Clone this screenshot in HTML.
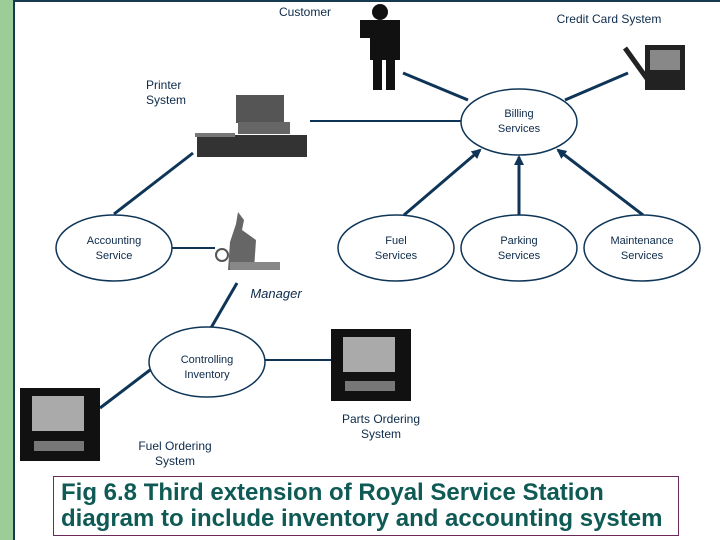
<!DOCTYPE html>
<html><head><meta charset="utf-8"><style>
html,body{margin:0;padding:0;background:#fff;}
body{width:720px;height:540px;overflow:hidden;position:relative;font-family:"Liberation Sans",sans-serif;}
.t{position:absolute;font-size:12px;color:#0d2a4a;text-align:center;line-height:15px;white-space:nowrap;}
.cap{position:absolute;left:53px;top:476px;width:626px;height:60px;border:1px solid #6a2a5a;color:#0f5a55;font-weight:bold;font-size:24px;line-height:26px;padding-left:7px;box-sizing:border-box;padding-top:3px;white-space:nowrap;}
</style></head><body>
<svg width="720" height="540" style="position:absolute;left:0;top:0">
<defs><marker id="a" markerWidth="10" markerHeight="10" refX="8" refY="5" orient="auto" markerUnits="userSpaceOnUse"><path d="M0,0 L10,5 L0,10 z" fill="#0e3557"/></marker></defs>
<rect x="0" y="0" width="13" height="540" fill="#9ccc98"/>
<rect x="13" y="0" width="2" height="540" fill="#183a50"/>
<rect x="13" y="0" width="707" height="2" fill="#183a50"/>
<g stroke="#0e3557" stroke-width="3" fill="none">
<line x1="403" y1="73" x2="468" y2="100"/>
<line x1="628" y1="73" x2="565" y2="100"/>
<line x1="310" y1="121" x2="461" y2="121" stroke-width="2"/>
<line x1="193" y1="153" x2="114" y2="214"/>
<line x1="172" y1="248" x2="215" y2="248" stroke-width="2"/>
<line x1="404" y1="215" x2="480" y2="150" marker-end="url(#a)"/>
<line x1="519" y1="215" x2="519" y2="157" marker-end="url(#a)"/>
<line x1="643" y1="215" x2="558" y2="150" marker-end="url(#a)"/>
<line x1="237" y1="283" x2="208" y2="333"/>
<line x1="265" y1="360" x2="332" y2="360" stroke-width="2"/>
<line x1="150" y1="370" x2="100" y2="408"/>
</g>
<g stroke="#0e3557" stroke-width="1.5" fill="#fff">
<ellipse cx="519" cy="122" rx="58" ry="33"/>
<ellipse cx="114" cy="248" rx="58" ry="33"/>
<ellipse cx="396" cy="248" rx="58" ry="33"/>
<ellipse cx="519" cy="248" rx="58" ry="33"/>
<ellipse cx="642" cy="248" rx="58" ry="33"/>
<ellipse cx="207" cy="362" rx="58" ry="35"/>
</g>
<g fill="#111"><circle cx="380" cy="12" r="8"/><rect x="370" y="20" width="30" height="40"/><rect x="373" y="58" width="9" height="32"/><rect x="386" y="58" width="9" height="32"/><rect x="360" y="20" width="10" height="18"/></g>
<g fill="#222"><rect x="645" y="45" width="40" height="45"/><rect x="650" y="50" width="30" height="20" fill="#888"/><line x1="625" y1="48" x2="648" y2="80" stroke="#222" stroke-width="5"/></g>
<g><rect x="236" y="95" width="48" height="28" fill="#555"/><rect x="238" y="122" width="52" height="12" fill="#666"/><rect x="197" y="135" width="110" height="22" fill="#333"/><rect x="195" y="133" width="40" height="4" fill="#777"/></g>
<g><path d="M238 212 l6 8 l-2 10 l14 10 l-2 30 h-26 l2-28 l6-18z" fill="#666"/><circle cx="222" cy="255" r="6" fill="none" stroke="#555" stroke-width="2"/><rect x="230" y="262" width="50" height="8" fill="#888"/></g>
<g><rect x="331" y="329" width="80" height="72" fill="#111"/><rect x="343" y="337" width="52" height="35" fill="#aaa"/><rect x="345" y="381" width="50" height="10" fill="#777"/>
<rect x="20" y="388" width="80" height="73" fill="#111"/><rect x="32" y="396" width="52" height="35" fill="#aaa"/><rect x="34" y="441" width="50" height="10" fill="#777"/></g>
</svg>
<div class="t" style="left:270px;top:5px;width:70px">Customer</div>
<div class="t" style="left:538px;top:12px;width:142px">Credit Card System</div>
<div class="t" style="left:146px;top:78px;text-align:left">Printer<br>System</div>
<div class="t" style="left:479px;top:107px;width:80px;font-size:11px">Billing<br>Services</div>
<div class="t" style="left:70px;top:234px;width:88px;font-size:11px">Accounting<br>Service</div>
<div class="t" style="left:356px;top:234px;width:80px;font-size:11px">Fuel<br>Services</div>
<div class="t" style="left:479px;top:234px;width:80px;font-size:11px">Parking<br>Services</div>
<div class="t" style="left:597px;top:234px;width:90px;font-size:11px">Maintenance<br>Services</div>
<div class="t" style="left:243px;top:286px;width:66px;font-style:italic;font-size:13px">Manager</div>
<div class="t" style="left:162px;top:353px;width:90px;font-size:11px">Controlling<br>Inventory</div>
<div class="t" style="left:325px;top:412px;width:112px">Parts Ordering<br>System</div>
<div class="t" style="left:122px;top:439px;width:106px">Fuel Ordering<br>System</div>
<div class="cap">Fig 6.8 Third extension of Royal Service Station<br>diagram to include inventory and accounting system</div>
</body></html>
